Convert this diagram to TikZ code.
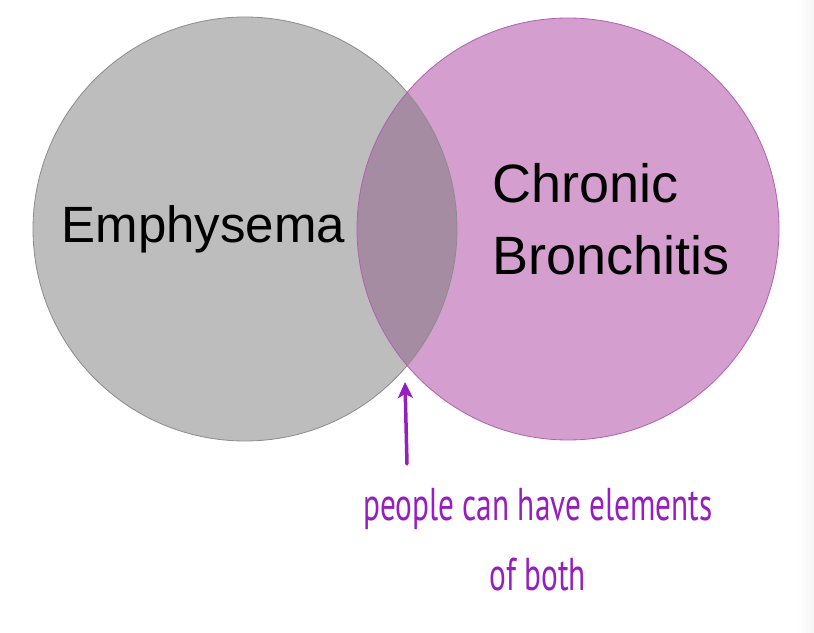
\documentclass[tikz,border=0pt]{standalone}
\usepackage{fontspec}
\setmainfont{Liberation Sans}
\newfontfamily\handfont{PT Sans}
\usetikzlibrary{arrows.meta}
\definecolor{grayfill}{RGB}{189,189,189}
\definecolor{grayline}{RGB}{140,140,140}
\definecolor{pinkfill}{RGB}{212,158,206}
\definecolor{pinkline}{RGB}{176,96,176}
\definecolor{overlapfill}{RGB}{166,140,163}
\definecolor{handpurple}{RGB}{150,30,190}
\begin{document}
\begin{tikzpicture}[x=1pt,y=1pt,
  setlabel/.style={text=black, align=left},
  handlabel/.style={font=\handfont\fontsize{46}{70}\selectfont, text=handpurple, align=center, xscale=0.68},
  pointer/.style={draw=handpurple, line width=3.5pt, line cap=round, -{Stealth[length=16pt,width=15pt,inset=4pt]}}]
\useasboundingbox (0,0) rectangle (814,632);
\shade[left color=white, right color=black!4] (798,0) rectangle (814,632);
% circles
\coordinate (emphc) at (245,403);
\coordinate (bronc) at (568,403);
\fill[grayfill] (emphc) circle[radius=212];
\fill[pinkfill] (bronc) circle[radius=211];
\begin{scope}
  \clip (emphc) circle[radius=212];
  \fill[overlapfill] (bronc) circle[radius=211];
\end{scope}
\draw[grayline, line width=0.8pt] (emphc) circle[radius=212];
\draw[pinkline, line width=0.8pt] (bronc) circle[radius=211];
% labels
\node[setlabel, font=\fontsize{51}{72}\selectfont, anchor=base west] (emph) at (58,389) {Emphysema};
\node[setlabel, font=\fontsize{54}{72}\selectfont, anchor=base west] (chron) at (489,429) {Chronic};
\node[setlabel, font=\fontsize{54}{72}\selectfont, anchor=base west] (bronch) at (489,357) {Bronchitis};
% annotation
\node[handlabel] (note) at (538,92) {people can have elements\\of both};
\coordinate (tail) at (407,168);
\coordinate (tip) at (405,250);
\draw[pointer] (tail) -- (tip);
\end{tikzpicture}
\end{document}
